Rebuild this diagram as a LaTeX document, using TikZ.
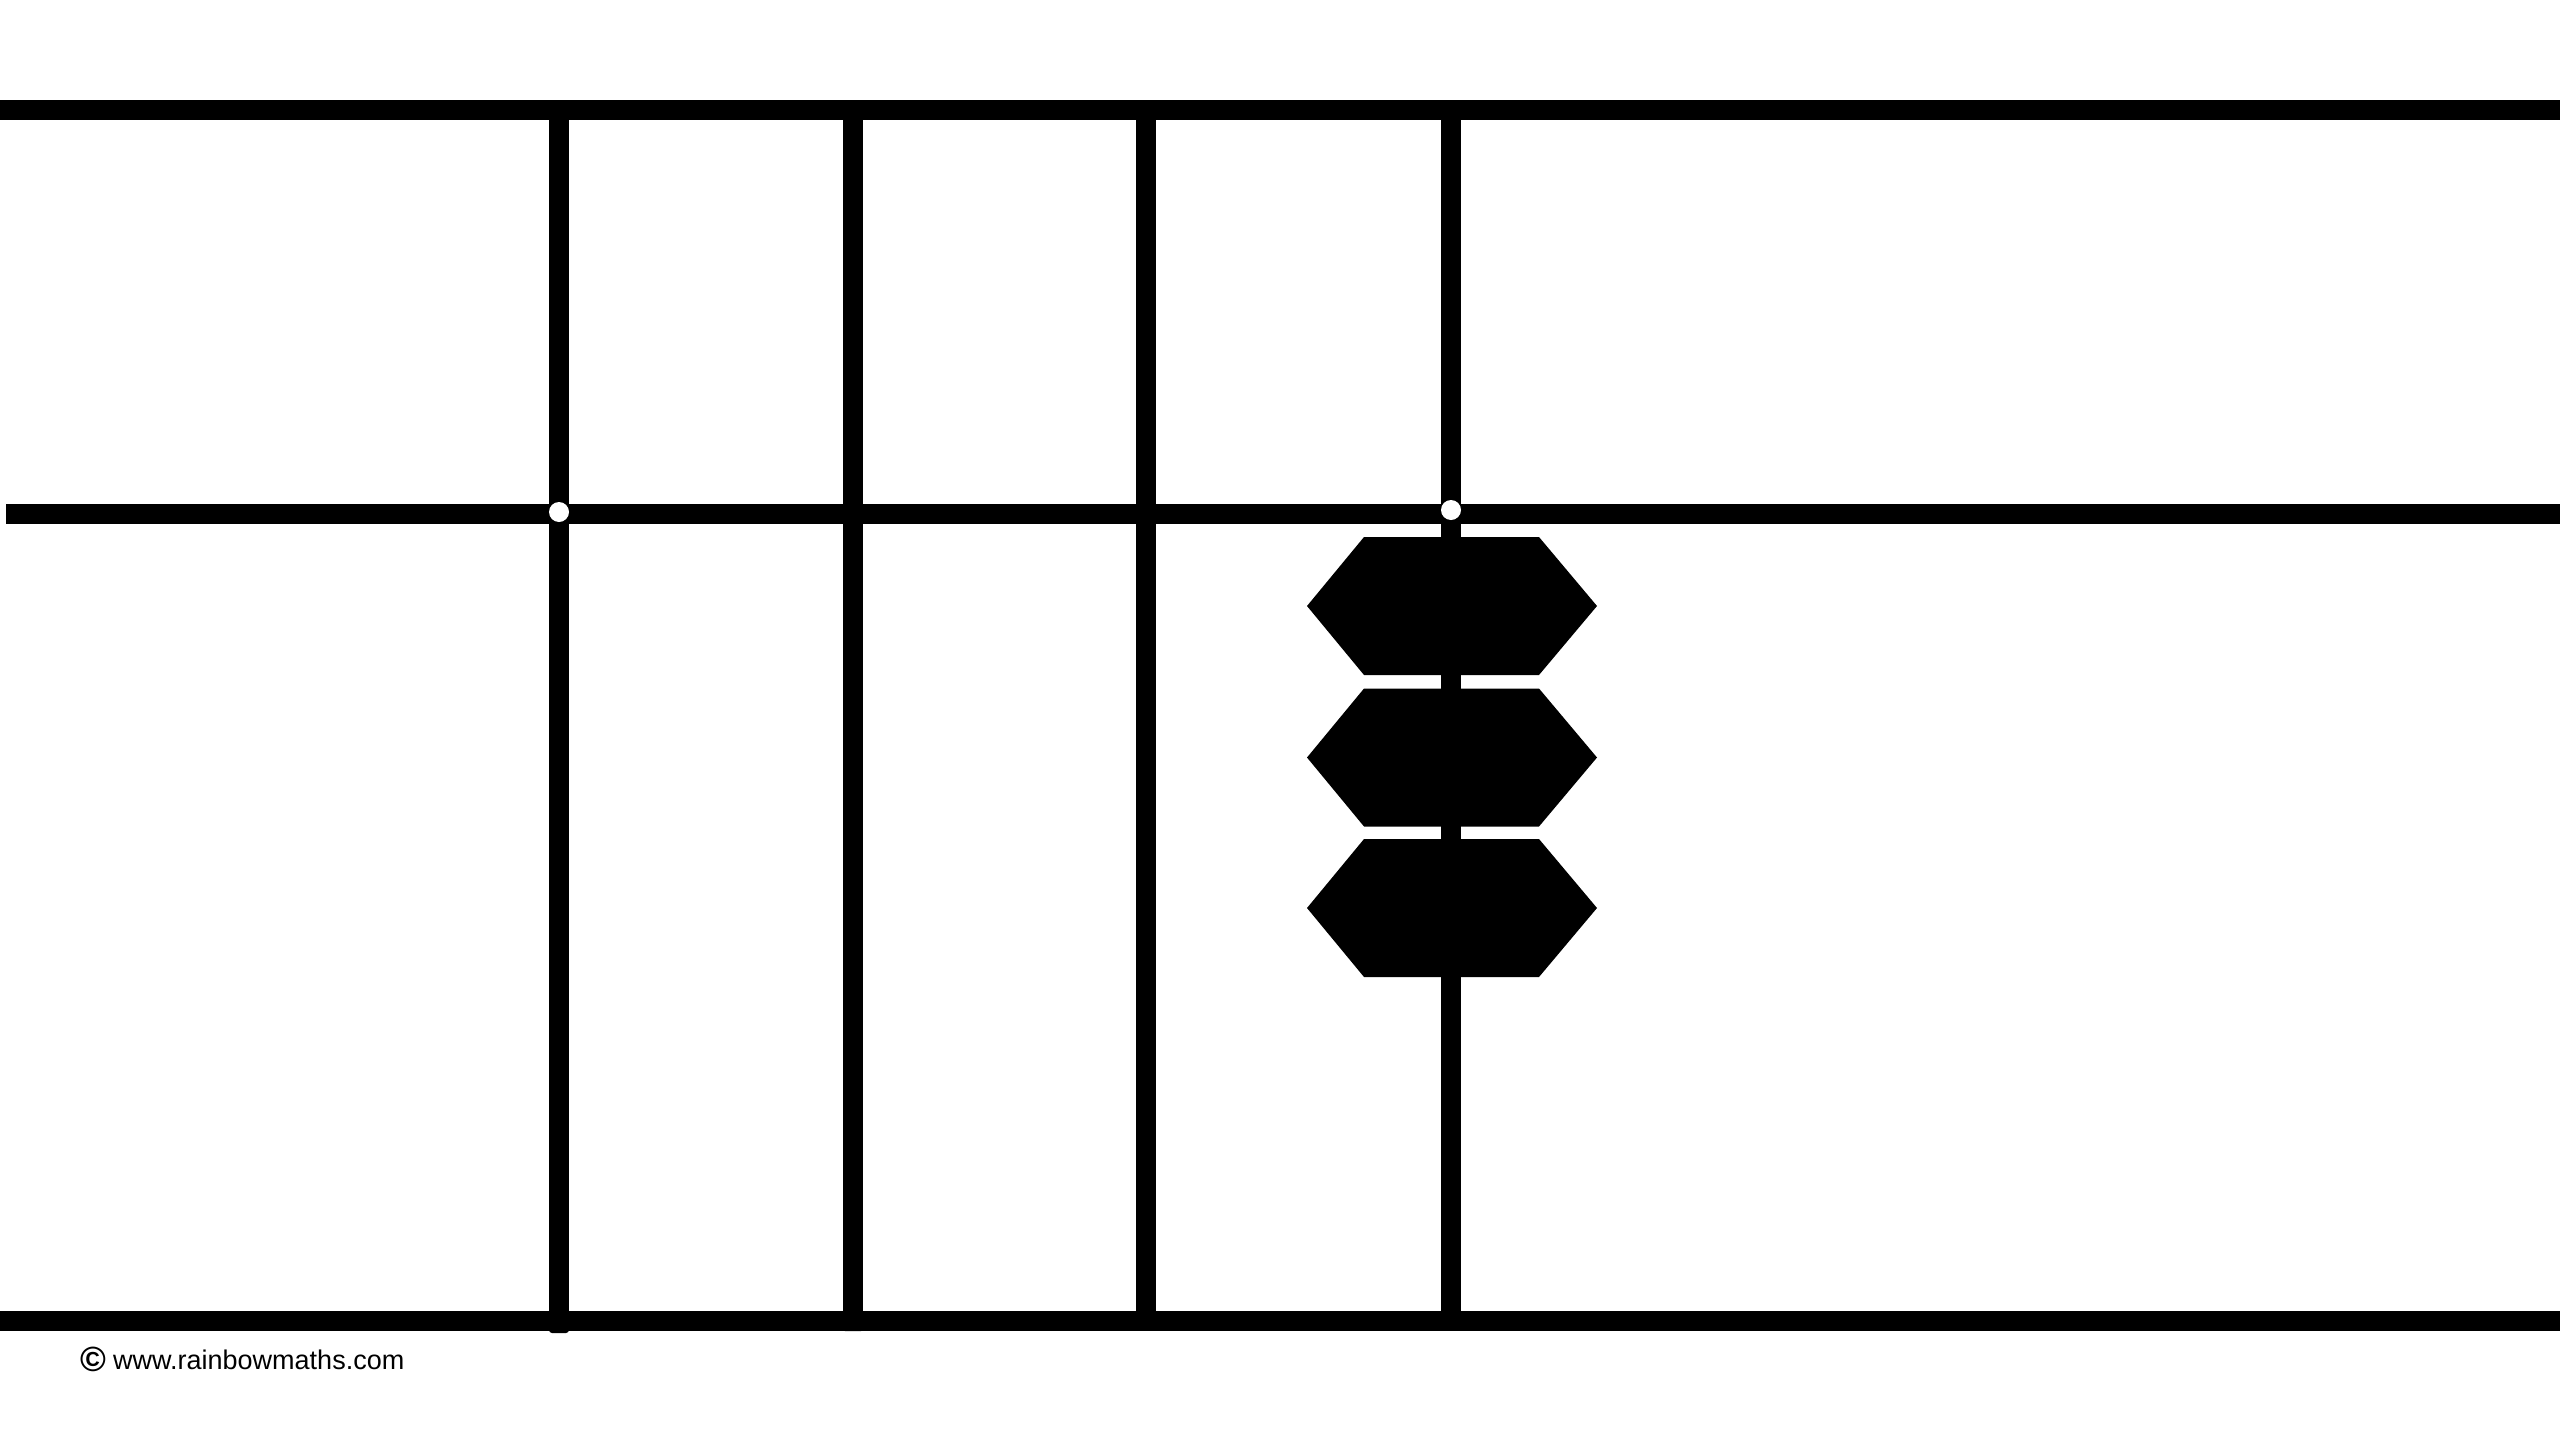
\documentclass[tikz,border=0pt]{standalone}
\usepackage{fontspec}
\setmainfont{Liberation Sans}
\begin{document}
\begin{tikzpicture}[x=1pt,y=-1pt,
  bar/.style={line width=20pt,black},
  rod/.style={line width=20pt,black},
  bead/.style={fill=black},
  hole/.style={fill=white},
  foot/.style={inner sep=0pt,anchor=base west}]
\useasboundingbox (0,0) rectangle (2560,1440);
% rods
\foreach \x/\e in {559/1320,853/1320,1146/1320,1451/1320}{
  \draw[rod] (\x,109) -- (\x,\e);
}
\fill[rounded corners=3pt] (549,1310) rectangle (569,1333);
\fill[rounded corners=2pt] (843,1310) rectangle (863,1331);
% bars
\draw[bar] (0,109.5) -- (2560,109.5);
\draw[bar] (6,513.5) -- (2560,513.5);
\draw[bar] (0,1320.5) -- (2560,1320.5);
% holes
\fill[hole] (559,512) circle (10);
\fill[hole] (1451,510) circle (10);
% beads
\foreach \y in {606,757.5,908}{
  \fill[bead] (1307,\y) -- (1364,\y-69) -- (1539,\y-69) -- (1597,\y) -- (1539,\y+69) -- (1364,\y+69) -- cycle;
}
\node[foot,font=\bfseries\fontsize{35}{38}\selectfont] (c) at (80,1371) {©};
\node[foot,font=\fontsize{27}{30}\selectfont] (url) at (113,1369) {www.rainbowmaths.com};
\end{tikzpicture}
\end{document}
